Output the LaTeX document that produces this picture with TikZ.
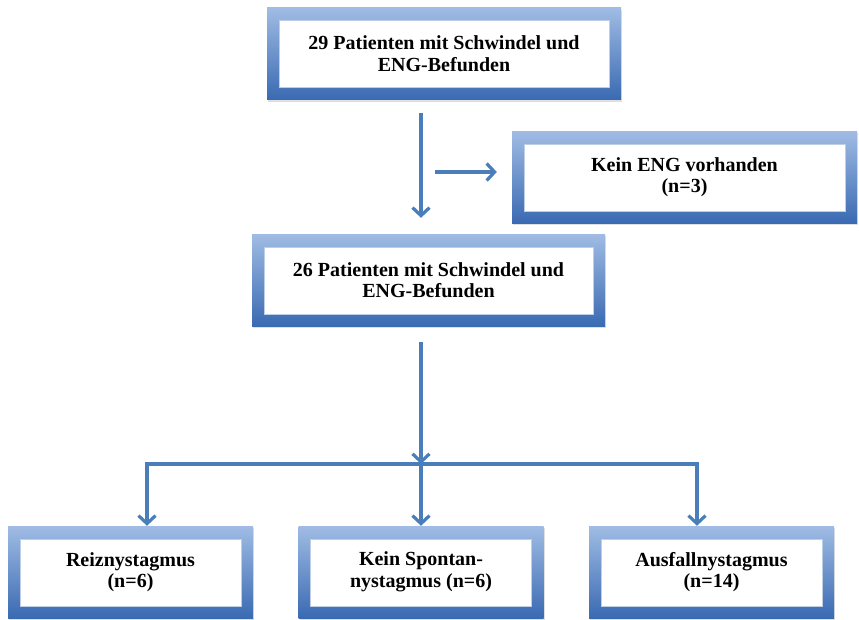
\documentclass[tikz,border=0pt]{standalone}
\usepackage{fontspec}
\setmainfont{Liberation Serif}
\usetikzlibrary{arrows.meta,shadows}
\definecolor{arrowblue}{RGB}{74,126,187}
\definecolor{frametop}{RGB}{160,188,228}
\definecolor{framebot}{RGB}{58,106,178}
\definecolor{innerline}{RGB}{190,206,230}

\begin{document}
\begin{tikzpicture}[x=1pt, y=-1pt,
    box/.style={minimum height=92pt, inner sep=0pt,
      top color=frametop, bottom color=framebot,
      drop shadow={opacity=0.25, shadow xshift=1pt, shadow yshift=-2pt},
      align=center, font=\fontsize{20}{21.5}\selectfont\bfseries,
      path picture={\draw[innerline, fill=white, line width=0.8pt]
        ([shift={(12pt,-13pt)}]path picture bounding box.north west) rectangle
        ([shift={(-12pt,12pt)}]path picture bounding box.south east);}},
    flow/.style={draw=arrowblue, line width=3.2pt, -{Straight Barb[length=8pt,width=17pt]}}]
    \useasboundingbox (0,0) rectangle (859,619);

    \node[box, minimum width=354pt] (top) at (444,53.5) {29 Patienten mit Schwindel und\\ENG-Befunden};
    \node[box, minimum width=345pt] (kein) at (684.5,177) {Kein ENG vorhanden\\(n=3)};
    \node[box, minimum width=353pt] (mid) at (428.5,280) {26 Patienten mit Schwindel und\\ENG-Befunden};
    \node[box, minimum width=245pt] (reiz) at (130.5,572) {Reiznystagmus\\(n=6)};
    \node[box, minimum width=245pt] (spont) at (421,572) {Kein Spontan-\\nystagmus (n=6)};
    \node[box, minimum width=245pt] (ausf) at (711.5,572) {Ausfallnystagmus\\(n=14)};

    \coordinate (split) at (421,464);
    \draw[flow] ([xshift=-23pt,yshift=-13pt]top.south) -- ([xshift=-7.5pt,yshift=16pt]mid.north);
    \draw[flow] ([xshift=-77pt,yshift=5pt]kein.west) -- ([xshift=-15pt,yshift=5pt]kein.west);
    \draw[flow] ([xshift=-7.5pt,yshift=-16pt]mid.south) -- (split);
    \draw[flow] (split) -| ([xshift=16.5pt]reiz.north);
    \draw[flow] (split) -- (spont.north);
    \draw[flow] (split) -| ([xshift=-14.5pt]ausf.north);
\end{tikzpicture}
\end{document}
